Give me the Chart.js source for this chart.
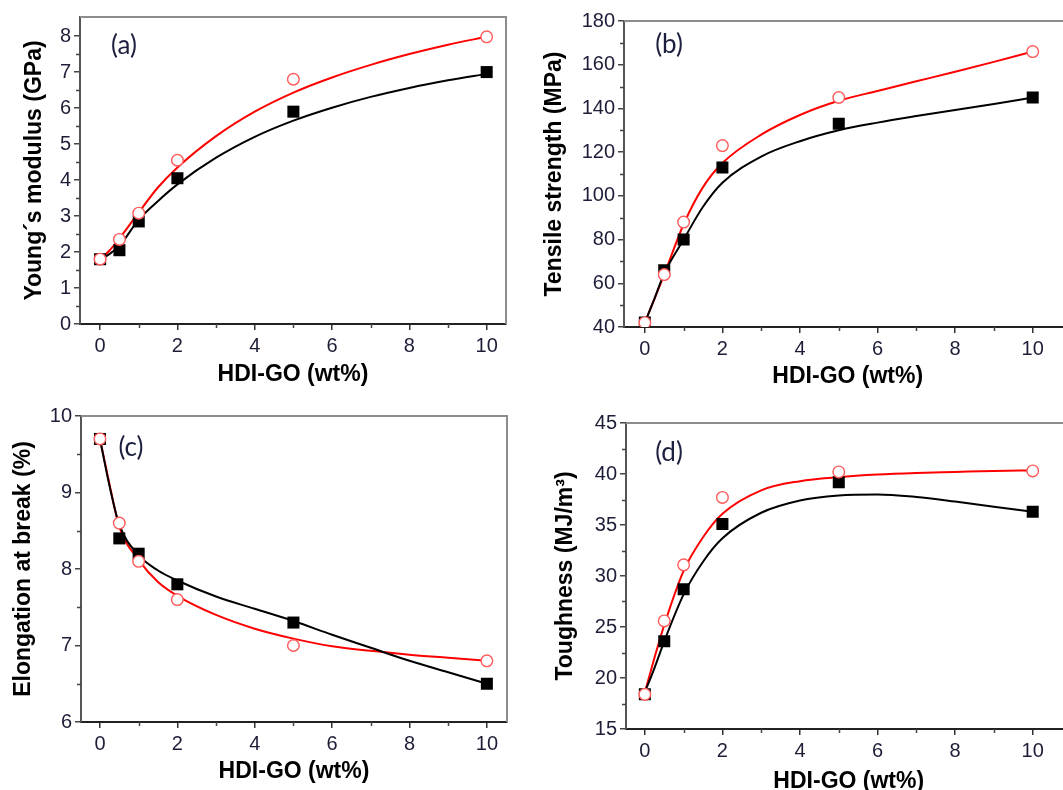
<!DOCTYPE html>
<html>
<head>
<meta charset="utf-8">
<script src="https://cdn.jsdelivr.net/npm/chart.js@4.4.1/dist/chart.umd.min.js"></script>
<style>
  html, body { margin: 0; padding: 0; background: #fff; }
  body { width: 1063px; height: 790px; overflow: hidden; position: relative; }
  canvas { position: absolute; }
  .tag { position: absolute; font-family: Lato, 'Open Sans', sans-serif; font-size: 26px; color: #1c1f3e; transform: translate(-50%, -50%); white-space: nowrap; }
</style>
</head>
<body>
<canvas id="c-a" width="531" height="395" style="left:0;top:0"></canvas>
<canvas id="c-b" width="549" height="395" style="left:531px;top:0"></canvas>
<canvas id="c-c" width="531" height="395" style="left:0;top:395px"></canvas>
<canvas id="c-d" width="549" height="405" style="left:531px;top:395px"></canvas>
<div class="tag" style="left:124px;top:44px">(a)</div>
<div class="tag" style="left:669px;top:43px">(b)</div>
<div class="tag" style="left:131px;top:446px">(c)</div>
<div class="tag" style="left:669px;top:451px">(d)</div>
<script>
// HDI-GO loadings (wt%) and the values
const xWt = [0, 0.5, 1, 2, 5, 10];
const fitX = [0, 0.25, 0.5, 1, 1.5, 2, 3, 4, 5, 6, 7, 8, 9, 10];

const modulusBlack = [1.8, 2.05, 2.85, 4.05, 5.9, 7.0];
const modulusRed = [1.8, 2.35, 3.08, 4.55, 6.8, 7.98];
const modulusFitBlack = [1.8, 1.95, 2.17, 2.9, 3.42, 3.88, 4.62, 5.2, 5.65, 6.01, 6.31, 6.56, 6.77, 6.95];
const modulusFitRed = [1.8, 2.05, 2.38, 3.1, 3.8, 4.35, 5.22, 5.9, 6.43, 6.85, 7.2, 7.5, 7.76, 7.98];

const strengthBlack = [42, 66, 80, 113, 133, 145];
const strengthRed = [42, 64, 88, 123, 145, 166];
const strengthFitBlack = [42, 53, 64.5, 80, 95, 106, 118, 125, 130, 133.5, 136.5, 139.3, 142, 145];
const strengthFitRed = [42, 53, 64, 87, 104, 115, 128, 137, 143.5, 148, 152.4, 156.8, 161.3, 166];

const elongBlack = [9.7, 8.4, 8.2, 7.8, 7.3, 6.5];
const elongRed = [9.7, 8.6, 8.1, 7.6, 7.0, 6.8];
const elongFitBlack = [9.7, 9.08, 8.58, 8.18, 7.98, 7.85, 7.64, 7.48, 7.32, 7.14, 6.97, 6.8, 6.65, 6.5];
const elongFitRed = [9.7, 9.1, 8.55, 8.12, 7.83, 7.65, 7.4, 7.22, 7.09, 6.99, 6.93, 6.88, 6.84, 6.8];

const toughBlack = [18.4, 23.6, 28.7, 35.1, 39.2, 36.3];
const toughRed = [18.4, 25.6, 31.1, 37.7, 40.2, 40.3];
const toughFitBlack = [18.6, 21, 23.6, 28.2, 31.4, 33.7, 36.2, 37.4, 37.9, 38.0, 37.75, 37.3, 36.8, 36.3];
const toughFitRed = [18.6, 22, 25.2, 30.5, 33.8, 36.1, 38.4, 39.3, 39.7, 39.95, 40.1, 40.2, 40.3, 40.35];

const xMajor = [0, 2, 4, 6, 8, 10];
const xMinor = [1, 3, 5, 7, 9];
const xTitle = 'HDI-GO (wt%)';

const TICK_FONT = { family: "'Liberation Sans', Arial, sans-serif", size: 20 };
const TITLE_FONT = { family: "'Liberation Sans', Arial, sans-serif", size: 23, weight: 'bold' };

const pts = (xs, ys) => xs.map((x, i) => ({ x, y: ys[i] }));

// top/right frame plus the short minor ticks
const framePlugin = {
  id: 'frame',
  afterDraw(chart, args, opts) {
    const { ctx, chartArea: a, scales: { x, y } } = chart;
    ctx.save();
    ctx.strokeStyle = '#8c8c8c';
    ctx.lineWidth = 2;
    ctx.beginPath();
    ctx.moveTo(a.left, a.top);
    ctx.lineTo(a.right, a.top);
    ctx.lineTo(a.right, a.bottom);
    ctx.stroke();
    ctx.strokeStyle = '#444';
    ctx.lineWidth = 1.5;
    ctx.beginPath();
    for (const v of xMinor) {
      const px = Math.round(x.getPixelForValue(v)) + 0.5;
      ctx.moveTo(px, a.bottom);
      ctx.lineTo(px, a.bottom + 4);
    }
    for (const v of opts.yMinor || []) {
      const py = Math.round(y.getPixelForValue(v)) + 0.5;
      ctx.moveTo(a.left - 4, py);
      ctx.lineTo(a.left, py);
    }
    ctx.stroke();
    ctx.restore();
  }
};

function makePanel(id, p) {
  return new Chart(document.getElementById(id), {
    type: 'scatter',
    data: {
      datasets: [
        { data: pts(fitX, p.fitRed), showLine: true, borderColor: '#ff0000', borderWidth: 2, pointRadius: 0, cubicInterpolationMode: 'monotone', order: 3 },
        { data: pts(fitX, p.fitBlack), showLine: true, borderColor: '#000', borderWidth: 2, pointRadius: 0, cubicInterpolationMode: 'monotone', order: 2 },
        { data: pts(xWt, p.black), pointStyle: 'rect', pointRadius: 8.5, backgroundColor: '#000', borderColor: '#000', borderWidth: 0, order: 1 },
        { data: pts(xWt, p.red), pointStyle: 'circle', pointRadius: 5.8, backgroundColor: '#fff', borderColor: '#ff5a5a', borderWidth: 1.4, order: 0 }
      ]
    },
    plugins: [framePlugin],
    options: {
      responsive: false, animation: false, devicePixelRatio: 1,
      layout: { padding: { left: 0, top: p.padTop, right: p.padRight, bottom: 0 } },
      plugins: { legend: { display: false }, tooltip: { enabled: false }, frame: { yMinor: p.yMinor } },
      scales: {
        x: {
          type: 'linear', min: p.xMin, max: p.xMax,
          afterBuildTicks: s => { s.ticks = xMajor.map(v => ({ value: v })); },
          afterFit: s => { s.height = p.xHeight; },
          border: { color: '#222', width: 2 },
          grid: { drawOnChartArea: false, tickLength: 6, color: '#333', lineWidth: 1.5 },
          ticks: { font: TICK_FONT, color: '#1d1d38', padding: 4, maxRotation: 0, autoSkip: false },
          title: { display: true, text: xTitle, font: TITLE_FONT, color: '#000', padding: { top: 0, bottom: p.xTitlePad } }
        },
        y: {
          min: p.yMin, max: p.yMax,
          afterBuildTicks: s => { s.ticks = p.yMajor.map(v => ({ value: v })); },
          afterFit: s => { s.width = p.yWidth; },
          border: { color: '#555', width: 2 },
          grid: { drawOnChartArea: false, tickLength: 6, color: '#444', lineWidth: 1.5 },
          ticks: { font: TICK_FONT, color: '#1d1d38', padding: 3, autoSkip: false },
          title: { display: true, text: p.yTitle, font: TITLE_FONT, color: '#000', padding: { top: p.yTitlePad, bottom: 0 } }
        }
      }
    }
  });
}

makePanel('c-a', {
  black: modulusBlack, red: modulusRed, fitBlack: modulusFitBlack, fitRed: modulusFitRed,
  yTitle: 'Young´s modulus (GPa)', yMin: 0, yMax: 8.53,
  yMajor: [0, 1, 2, 3, 4, 5, 6, 7, 8], yMinor: [0.5, 1.5, 2.5, 3.5, 4.5, 5.5, 6.5, 7.5],
  xMin: -0.52, xMax: 10.5, padTop: 17, padRight: 25, yWidth: 80, xHeight: 71, xTitlePad: 7, yTitlePad: 21
});

makePanel('c-b', {
  black: strengthBlack, red: strengthRed, fitBlack: strengthFitBlack, fitRed: strengthFitRed,
  yTitle: 'Tensile strength (MPa)', yMin: 40, yMax: 180,
  yMajor: [40, 60, 80, 100, 120, 140, 160, 180], yMinor: [50, 70, 90, 110, 130, 150, 170],
  xMin: -0.537, xMax: 11.0, padTop: 21, padRight: 5, yWidth: 93, xHeight: 68, xTitlePad: 5, yTitlePad: 10
});

makePanel('c-c', {
  black: elongBlack, red: elongRed, fitBlack: elongFitBlack, fitRed: elongFitRed,
  yTitle: 'Elongation at break (%)', yMin: 6, yMax: 10,
  yMajor: [6, 7, 8, 9, 10], yMinor: [6.5, 7.5, 8.5, 9.5],
  xMin: -0.49, xMax: 10.52, padTop: 21, padRight: 24, yWidth: 81, xHeight: 68, xTitlePad: 5, yTitlePad: 10
});

makePanel('c-d', {
  black: toughBlack, red: toughRed, fitBlack: toughFitBlack, fitRed: toughFitRed,
  yTitle: 'Toughness (MJ/m³)', yMin: 15, yMax: 45,
  yMajor: [15, 20, 25, 30, 35, 40, 45], yMinor: [17.5, 22.5, 27.5, 32.5, 37.5, 42.5],
  xMin: -0.486, xMax: 11.0, padTop: 28, padRight: 5, yWidth: 95, xHeight: 71, xTitlePad: 5, yTitlePad: 21
});
</script>
</body>
</html>
